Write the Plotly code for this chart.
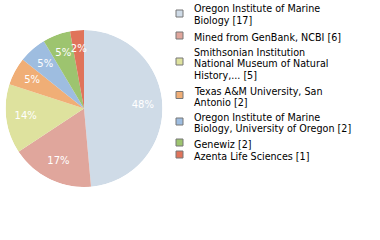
import math
import plotly.graph_objects as go

labels = [
    "Oregon Institute of Marine<br>Biology [17]",
    "Mined from GenBank, NCBI [6]",
    "Smithsonian Institution<br>National Museum of Natural<br>History,... [5]",
    "Texas A&M University, San<br>Antonio [2]",
    "Oregon Institute of Marine<br>Biology, University of Oregon [2]",
    "Genewiz [2]",
    "Azenta Life Sciences [1]",
]
values = [17, 6, 5, 2, 2, 2, 1]
colors = ["#cfdbe7", "#e0a69c", "#dee29e", "#f0ae76", "#9ebde0", "#9dc46f", "#e0735a"]

total = sum(values)
pct_text = [f"{math.floor(v * 100 / total)}%" for v in values]
# slice widths and mid-angles (degrees clockwise from 12 o'clock)
widths = [v / total * 360 for v in values]
mid_theta = []
acc = 0
for v in values:
    mid_theta.append((acc + v / 2) / total * 360)
    acc += v

W, H = 380, 240
dom = dict(x=[5 / W, 163 / W], y=[1 - 187 / H, 1 - 30 / H])

fig = go.Figure()
fig.add_trace(go.Barpolar(
    r=[1] * len(values),
    theta=mid_theta,
    width=widths,
    marker=dict(color=colors, line=dict(width=0)),
    showlegend=False,
    hovertext=[l.replace("<br>", " ") for l in labels],
    hoverinfo="text",
))
fig.add_trace(go.Scatterpolar(
    r=[0.75] * len(values),
    theta=mid_theta,
    text=pct_text,
    mode="text",
    textfont=dict(family="DejaVu Sans", size=10, color="white"),
    showlegend=False,
    hoverinfo="skip",
))
fig.update_layout(polar=dict(
    domain=dom,
    bgcolor="rgba(0,0,0,0)",
    radialaxis=dict(range=[0, 1], visible=False, showgrid=False),
    angularaxis=dict(rotation=90, direction="clockwise", visible=False, showgrid=False),
))

# manual legend (layout positions in pixels from top)
entry_first_line = [9, 37, 52, 91, 117, 144, 156]
entry_sq_y = [13.5, 35.5, 61.5, 95, 121.5, 142.5, 154.5]
line_step = 11.6
sq_x0, sq_x1 = 176, 183
text_x = 192
for lab, col, y0, ys in zip(labels, colors, entry_first_line, entry_sq_y):
    fig.add_shape(type="rect", xref="paper", yref="paper",
                  x0=sq_x0 / W, x1=sq_x1 / W,
                  y0=1 - (ys + 3.5) / H, y1=1 - (ys - 3.5) / H,
                  fillcolor=col, line=dict(color="#777777", width=1))
    for i, line in enumerate(lab.split("<br>")):
        fig.add_annotation(xref="paper", yref="paper", x=text_x / W,
                           y=1 - (y0 + i * line_step) / H,
                           text=line, showarrow=False, xanchor="left",
                           yanchor="middle", align="left",
                           font=dict(family="DejaVu Sans", size=9.6, color="black"))

fig.update_layout(
    width=W, height=H,
    margin=dict(l=0, r=0, t=0, b=0),
    paper_bgcolor="white", plot_bgcolor="white",
)
fig.write_html("out.html")
